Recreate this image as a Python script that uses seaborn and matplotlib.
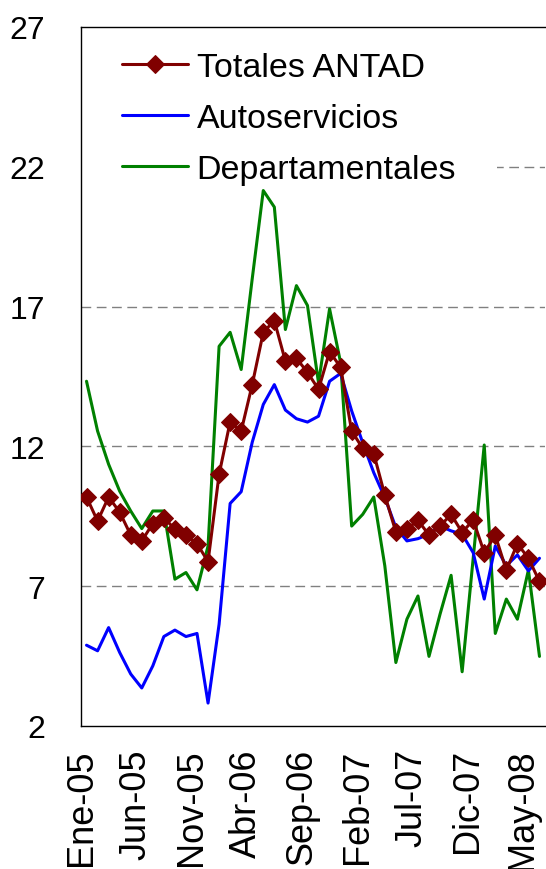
import numpy as np
import pandas as pd
import seaborn as sns
import matplotlib
matplotlib.use("Agg")
import matplotlib.pyplot as plt

# monthly series, Ene-05 .. Jun-08 (42 months)
months = ["Ene-05", "Feb-05", "Mar-05", "Abr-05", "May-05", "Jun-05", "Jul-05", "Ago-05",
          "Sep-05", "Oct-05", "Nov-05", "Dic-05", "Ene-06", "Feb-06", "Mar-06", "Abr-06",
          "May-06", "Jun-06", "Jul-06", "Ago-06", "Sep-06", "Oct-06", "Nov-06", "Dic-06",
          "Ene-07", "Feb-07", "Mar-07", "Abr-07", "May-07", "Jun-07", "Jul-07", "Ago-07",
          "Sep-07", "Oct-07", "Nov-07", "Dic-07", "Ene-08", "Feb-08", "Mar-08", "Abr-08",
          "May-08", "Jun-08"]

totales = [10.19, 9.33, 10.19, 9.65, 8.83, 8.62, 9.24, 9.45, 9.04, 8.83, 8.52, 7.88,
           11.0, 12.88, 12.55, 14.21, 16.08, 16.5, 15.05, 15.15, 14.65, 14.04, 15.39, 14.83,
           12.55, 11.93, 11.74, 10.26, 8.94, 9.04, 9.36, 8.83, 9.15, 9.57, 8.92, 9.37,
           8.2, 8.82, 7.57, 8.52, 8.0, 7.17]

autoservicios = [4.89, 4.69, 5.52, 4.63, 3.86, 3.36, 4.15, 5.2, 5.43, 5.2, 5.31, 2.82,
                 5.64, 9.96, 10.38, 12.15, 13.5, 14.21, 13.3, 12.99, 12.87, 13.08, 14.33, 14.61,
                 13.27, 12.13, 11.06, 10.17, 9.1, 8.62, 8.7, 8.86, 9.15, 8.98, 8.86, 8.2,
                 6.54, 8.44, 7.73, 8.12, 7.55, 8.0]

departamentales = [14.33, 12.55, 11.36, 10.4, 9.69, 9.06, 9.69, 9.69, 7.25, 7.49, 6.87, 8.44,
                   15.58, 16.08, 14.75, 18.0, 21.15, 20.56, 16.18, 17.75, 17.04, 14.27, 16.92, 14.99,
                   9.15, 9.57, 10.19, 7.73, 4.27, 5.82, 6.65, 4.49, 6.0, 7.39, 3.94, 8.0,
                   12.05, 5.31, 6.54, 5.82, 7.58, 4.49]

yticks = [2, 7, 12, 17, 22, 27]

df = pd.DataFrame({
    "idx": np.arange(len(months)),
    "Totales ANTAD": totales,
    "Autoservicios": autoservicios,
    "Departamentales": departamentales,
})

sns.set_style("white")
plt.rcParams["font.family"] = ["Liberation Sans", "DejaVu Sans"]
plt.rcParams["text.color"] = "black"
plt.rcParams["xtick.color"] = "black"
plt.rcParams["ytick.color"] = "black"

fig = plt.figure(figsize=(5.46, 8.70), dpi=100)
ax = fig.add_axes([81 / 546, 1 - 727 / 870, 464 / 546, 699 / 870])

# draw back-to-front: green, blue, red with diamonds on top
sns.lineplot(data=df, x="idx", y="Departamentales", ax=ax, color="#008000", lw=2.2,
             label="Departamentales", zorder=3)
sns.lineplot(data=df, x="idx", y="Autoservicios", ax=ax, color="#0000FF", lw=2.2,
             label="Autoservicios", zorder=4)
sns.lineplot(data=df, x="idx", y="Totales ANTAD", ax=ax, color="#800000", lw=2.2,
             marker="D", markersize=9, markeredgecolor="#800000", label="Totales ANTAD",
             zorder=5)

ax.set_xlim(-0.5, len(months) - 0.5)
ax.set_ylim(2, 27)
ax.set_yticks(yticks)
ax.set_yticklabels([str(v) for v in yticks], fontsize=23)
xt = np.arange(0, len(months), 5)
ax.set_xticks(xt - 0.5)
ax.set_xticklabels([months[i] for i in xt], rotation=90, fontsize=26)
ax.set_xlabel("")
ax.set_ylabel("")

for v in yticks[1:-1]:
    ax.axhline(v, color="#808080", lw=1.0, ls=(0, (7, 4)), zorder=1)

ax.tick_params(axis="both", direction="out", length=12, width=1, color="black",
               labelcolor="black")
ax.tick_params(axis="y", pad=14)
ax.tick_params(axis="x", pad=4)
ax.spines["right"].set_visible(False)
for s in ["left", "bottom", "top"]:
    ax.spines[s].set_color("black")
    ax.spines[s].set_linewidth(1.0)
    ax.spines[s].set_zorder(2.8)

h, l = ax.get_legend_handles_labels()
order = [l.index("Totales ANTAD"), l.index("Autoservicios"), l.index("Departamentales")]
leg = ax.legend([h[i] for i in order], [l[i] for i in order], loc="upper left",
                bbox_to_anchor=(0.0, 1.023), fontsize=24.5, frameon=True, fancybox=False,
                handlelength=1.95, handletextpad=0.25, labelspacing=0.59, borderpad=1.2,
                borderaxespad=0.0, labelcolor="black")
leg.get_frame().set_facecolor("white")
leg.get_frame().set_edgecolor("none")
leg.get_frame().set_alpha(1.0)
leg.set_zorder(2.6)

fig.savefig("out.png", dpi=100)
